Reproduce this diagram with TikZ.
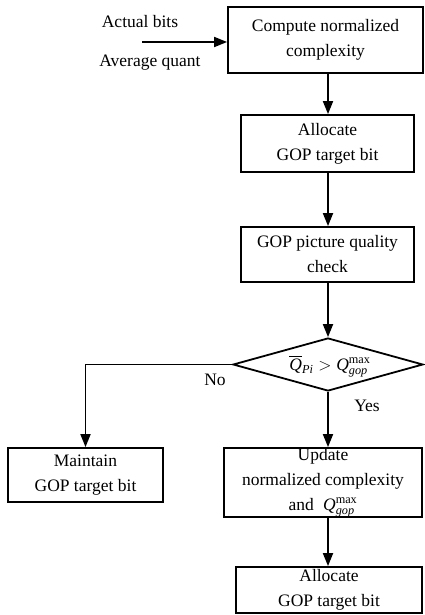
\documentclass[tikz,border=0pt]{standalone}
\usepackage{amsmath}
\usepackage{fontspec}
\setmainfont{Liberation Serif}
\usetikzlibrary{arrows.meta,shapes.geometric}
\begin{document}
\begin{tikzpicture}[x=1pt,y=1pt,
  every node/.style={font=\fontsize{17.5}{25}\selectfont},
  box/.style={draw,line width=1.8pt,align=center,inner sep=0pt},
  arr/.style={line width=1.8pt,-{Triangle[length=13pt,width=10pt]}}]
\useasboundingbox (0,0) rectangle (424,-615);
\node[box,minimum width=195,minimum height=66] (b1) at (325.5,-40) {Compute normalized\\complexity};
\node[box,minimum width=173,minimum height=57] (b2) at (327.5,-143.5) {Allocate\\GOP target bit};
\node[box,minimum width=173,minimum height=55] (b3) at (327.5,-254.5) {GOP picture quality\\check};
\node[draw,diamond,line width=1.8pt,minimum width=190,minimum height=53,inner sep=0pt] (d) at (328,-364.5) {};
\node (dt) at (330,-366) {$\overline{\textit{Q}}_{\textit{Pi}}>\textit{Q}^{\mathrm{max}}_{\textit{gop}}$};
\node[box,minimum width=155,minimum height=54] (m) at (85.5,-475) {Maintain\\GOP target bit};
\node[box,minimum width=198,minimum height=69] (u) at (323,-482.5) {Update\\normalized complexity\\and \;$\textit{Q}^{\mathrm{max}}_{\textit{gop}}$};
\node[box,minimum width=186,minimum height=46] (f) at (329,-590) {Allocate\\GOP target bit};
\node (l1) at (140,-22) {Actual bits};
\node (l2) at (150,-63) {Average quant};
\node (no) at (215,-380) {No};
\node (yes) at (367,-406) {Yes};
\coordinate (in) at (142,-42);
\draw[arr] (in) -- (in -| b1.west);
\draw[arr] (b1.south -| d.center) -- (b2.north -| d.center);
\draw[arr] (b2.south -| d.center) -- (b3.north -| d.center);
\draw[arr] (b3.south -| d.center) -- (d.north);
\draw[arr] (d.south) -- (u.north -| d.center);
\draw[arr] (u.south -| d.center) -- (f.north -| d.center);
\draw[arr] (d.west) -| (m.north);
\end{tikzpicture}
\end{document}
